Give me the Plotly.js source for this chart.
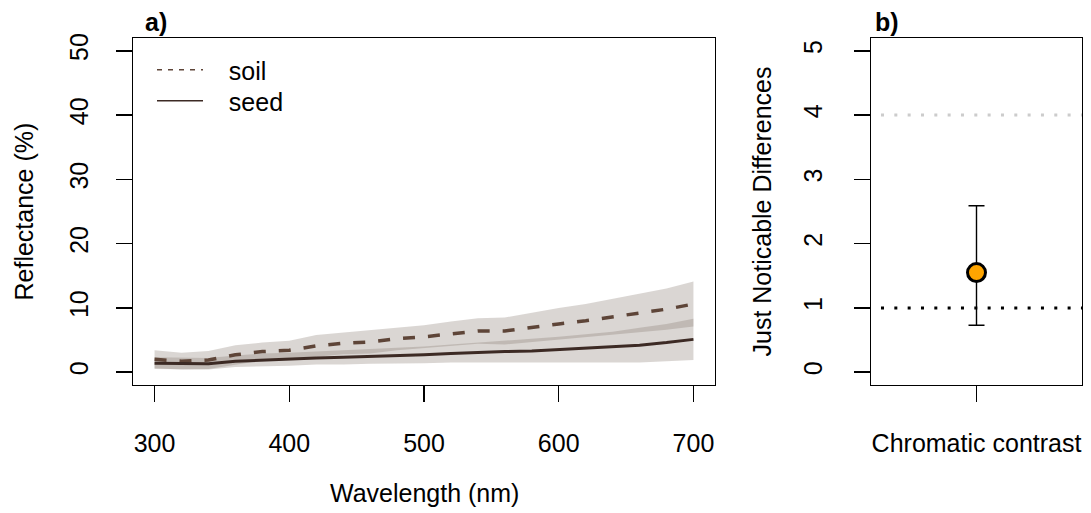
<!DOCTYPE html>
<html>
<head>
<meta charset="utf-8">
<script src="https://cdn.plot.ly/plotly-3.0.1.min.js"></script>
<style>html,body{margin:0;padding:0;background:#fff;}#chart{width:1091px;height:513px;}</style>
</head>
<body>
<div id="chart"></div>
<script>
// ---- Data (panel a) ----
var wavelength = [300,320,340,360,380,400,420,440,460,480,500,520,540,560,580,600,620,640,660,680,700];
var soilMean   = [2.0,1.7,1.9,2.7,3.2,3.4,4.1,4.5,4.7,5.2,5.5,6.0,6.4,6.4,7.0,7.5,8.0,8.6,9.2,9.8,10.6];
var soilSD     = [1.4,1.3,1.4,1.5,1.4,1.5,1.7,1.7,1.8,1.8,1.8,1.9,2.0,2.1,2.3,2.5,2.6,2.8,3.0,3.2,3.5];
var seedMean   = [1.4,1.3,1.3,1.7,1.9,2.0,2.2,2.3,2.4,2.6,2.7,2.9,3.1,3.2,3.3,3.5,3.7,3.9,4.2,4.6,5.1];
var seedSD     = [0.9,0.9,0.9,0.9,1.0,1.0,1.0,1.1,1.1,1.2,1.3,1.4,1.5,1.7,1.8,2.0,2.2,2.4,2.7,2.9,3.2];
var seriesNames = ["soil", "seed"];
var xTicks = [300,400,500,600,700];
var yTicks = [0,10,20,30,40,50];

// ---- Data (panel b) ----
var contrastCat   = ["Chromatic contrast"];
var jndMean  = [1.55];
var jndUpper = [2.59];
var jndLower = [0.73];
var jndTicks = [0,1,2,3,4,5];
var thresholdLow = 1;
var thresholdHigh = 4;

var FONT = "Liberation Sans, Arial, Helvetica, sans-serif";
var bandColor = "rgba(132,118,108,0.30)";
var soilColor = "#5e4538";
var seedColor = "#3c2a24";
var PAD = "\u00a0\u00a0\u00a0";

function band(mean, sd) {
  var up = mean.map(function(m,i){return m + sd[i];});
  var lo = mean.map(function(m,i){return m - sd[i];});
  return {
    x: wavelength.concat(wavelength.slice().reverse()),
    y: up.concat(lo.slice().reverse())
  };
}
var sb = band(soilMean, soilSD);
var eb = band(seedMean, seedSD);

var traces = [
  {x: sb.x, y: sb.y, type:"scatter", mode:"lines", fill:"toself", fillcolor: bandColor,
   line:{width:0, color:"rgba(0,0,0,0)"}, showlegend:false, hoverinfo:"skip", xaxis:"x", yaxis:"y"},
  {x: eb.x, y: eb.y, type:"scatter", mode:"lines", fill:"toself", fillcolor: bandColor,
   line:{width:0, color:"rgba(0,0,0,0)"}, showlegend:false, hoverinfo:"skip", xaxis:"x", yaxis:"y"},
  {x: wavelength, y: soilMean, type:"scatter", mode:"lines", name:seriesNames[0],
   line:{color: soilColor, width:3.5, dash:"12px,13px"}, showlegend:false, xaxis:"x", yaxis:"y"},
  {x: wavelength, y: seedMean, type:"scatter", mode:"lines", name:seriesNames[1],
   line:{color: seedColor, width:3}, showlegend:false, xaxis:"x", yaxis:"y"},
  // legend entries (thin lines as in the original legend)
  {x:[null], y:[null], type:"scatter", mode:"lines", name:PAD + seriesNames[0], legend:"legend",
   line:{color: soilColor, width:1.3, dash:"5px,6px"}, showlegend:true, xaxis:"x", yaxis:"y"},
  {x:[null], y:[null], type:"scatter", mode:"lines", name:PAD + seriesNames[1], legend:"legend2",
   line:{color: seedColor, width:1.3}, showlegend:true, xaxis:"x", yaxis:"y"},
  // panel b
  {x: contrastCat, y: jndMean, type:"scatter", mode:"markers", showlegend:false,
   marker:{size:18, color:"#FFA500", line:{color:"#000", width:3}},
   error_y:{type:"data", symmetric:false,
     array: jndUpper.map(function(u,i){return u - jndMean[i];}),
     arrayminus: jndMean.map(function(m,i){return m - jndLower[i];}),
     color:"#000", thickness:1.4, width:8},
   xaxis:"x2", yaxis:"y2"}
];

var W = 1091, H = 513;
var yDom = [1 - 385/H, 1 - 38/H];
var axisCommon = {
  showline:true, mirror:true, linecolor:"#000", linewidth:1.4,
  ticks:"outside", ticklen:16, tickwidth:1.4, tickcolor:"#000",
  showgrid:false, zeroline:false,
  tickfont:{family:FONT, size:25, color:"#000"}
};
function ax(extra){ var o = {}; for (var k in axisCommon) o[k]=axisCommon[k]; for (var k2 in extra) o[k2]=extra[k2]; return o; }
function leg(yc){
  return {x:152/W, y:1 - yc/H, xanchor:"left", yanchor:"middle", bgcolor:"rgba(0,0,0,0)", borderwidth:0,
          font:{family:FONT, size:25, color:"#000"}, itemwidth:46, tracegroupgap:0};
}

var layout = {
  width: W, height: H,
  margin:{l:0, r:0, t:0, b:0},
  paper_bgcolor:"#fff", plot_bgcolor:"#fff",
  font:{family:FONT, color:"#000"},
  xaxis: ax({domain:[133/W, 715/W], range:[284,716], tickmode:"array", tickvals:xTicks, ticklabelstandoff:20, anchor:"y"}),
  yaxis: ax({domain:yDom, range:[-2,52], tickmode:"array", tickvals:yTicks, tickangle:-90, ticklabelstandoff:18, anchor:"x"}),
  xaxis2: ax({domain:[871/W, 1082/W], type:"category", range:[-1,1], tickmode:"array", tickvals:contrastCat, ticktext:contrastCat, ticklabelstandoff:20, anchor:"y2"}),
  yaxis2: ax({domain:yDom, range:[-0.2,5.2], tickmode:"array", tickvals:jndTicks, tickangle:-90, ticklabelstandoff:22, anchor:"x2"}),
  showlegend:true,
  legend: leg(70),
  legend2: leg(101),
  shapes:[
    {type:"line", xref:"x2 domain", yref:"y2", x0:0, x1:1, y0:thresholdHigh, y1:thresholdHigh,
     line:{color:"#cccccc", width:3, dash:"0px,10px,3px,0.33px"}, layer:"below"},
    {type:"line", xref:"x2 domain", yref:"y2", x0:0, x1:1, y0:thresholdLow, y1:thresholdLow,
     line:{color:"#000", width:3, dash:"0px,10px,3px,0.33px"}, layer:"below"}
  ],
  annotations:[
    {text:"<b>a)</b>", xref:"paper", yref:"paper", x:143/W, y:1-22/H, xanchor:"left", yanchor:"middle", showarrow:false, font:{family:FONT, size:25, color:"#000"}},
    {text:"<b>b)</b>", xref:"paper", yref:"paper", x:873/W, y:1-22/H, xanchor:"left", yanchor:"middle", showarrow:false, font:{family:FONT, size:25, color:"#000"}},
    {text:"Reflectance (%)", xref:"paper", yref:"paper", x:24/W, y:1-211.5/H, xanchor:"center", yanchor:"middle", textangle:-90, showarrow:false, font:{family:FONT, size:25, color:"#000"}},
    {text:"Just Noticable Differences", xref:"paper", yref:"paper", x:762/W, y:1-211.5/H, xanchor:"center", yanchor:"middle", textangle:-90, showarrow:false, font:{family:FONT, size:25, color:"#000"}},
    {text:"Wavelength (nm)", xref:"paper", yref:"paper", x:424/W, y:1-493/H, xanchor:"center", yanchor:"middle", showarrow:false, font:{family:FONT, size:25, color:"#000"}}
  ]
};

Plotly.newPlot("chart", traces, layout, {displayModeBar:false, staticPlot:true});
</script>
</body>
</html>
